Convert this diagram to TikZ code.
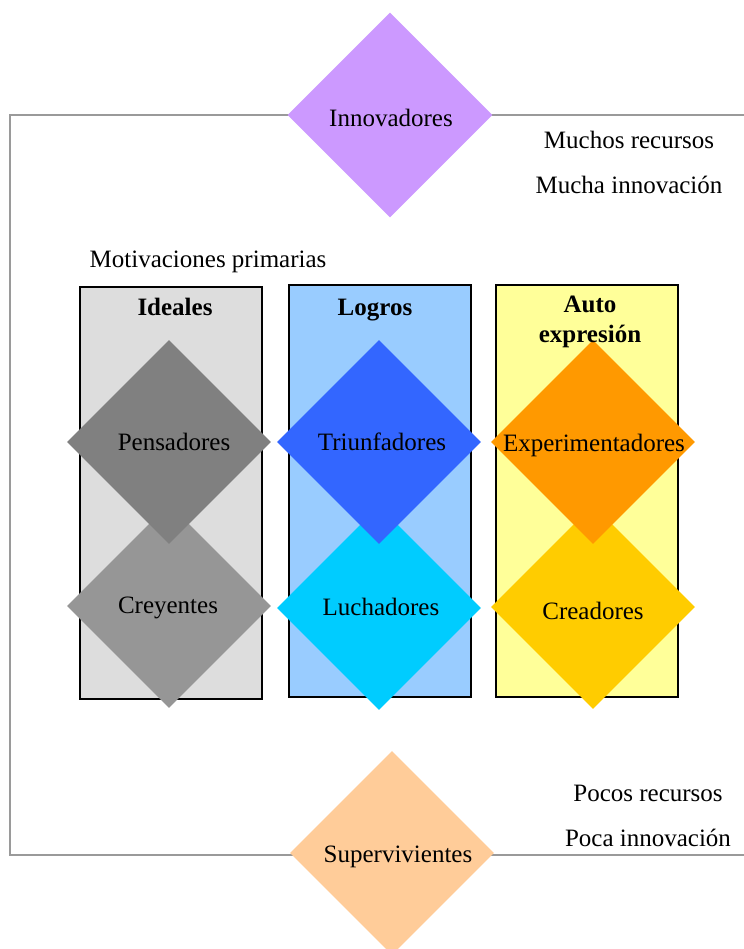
\documentclass[tikz,border=0pt]{standalone}
\usepackage{fontspec}
\setmainfont{Liberation Serif}
\usepackage{tikz}
\usetikzlibrary{shapes.geometric,positioning}
\definecolor{inno}{HTML}{CC99FF}
\definecolor{superv}{HTML}{FFCC99}
\definecolor{idealbg}{HTML}{DDDDDD}
\definecolor{logrobg}{HTML}{99CCFF}
\definecolor{autobg}{HTML}{FFFF99}
\definecolor{pens}{HTML}{808080}
\definecolor{crey}{HTML}{969696}
\definecolor{triun}{HTML}{3366FF}
\definecolor{luch}{HTML}{00CCFF}
\definecolor{exper}{HTML}{FF9900}
\definecolor{crea}{HTML}{FFCC00}
\definecolor{framegray}{HTML}{9A9A9A}
\tikzset{
  dia/.style    ={diamond,aspect=1,minimum size=102pt,inner sep=0pt,draw=none},
  column/.style ={draw=black,line width=0.6pt,minimum width=91pt,minimum height=206pt,
                  inner sep=0pt},
  head/.style   ={font=\fontsize{12.5}{15}\selectfont\bfseries,align=center,inner sep=0pt},
  side/.style   ={inner sep=0pt},
  frame/.style  ={draw=framegray,line width=0.75pt}
}

\begin{document}
\begin{tikzpicture}[x=0.5pt,y=-0.5pt,font=\fontsize{12.5}{15}\selectfont]
  \useasboundingbox (0,0) rectangle (744,949);
  % outer frame, open to the right
  \coordinate (ftr) at (744,115);
  \coordinate (ftl) at (10,115);
  \coordinate (fbl) at (10,855);
  \coordinate (fbr) at (744,855);
  \draw[frame] (ftr) -- (ftl) -- (fbl) -- (fbr);

  \node[dia,fill=inno,minimum size=102.5pt] (innov) at (390,115) {};
  \node[dia,fill=superv] (superv) at (392,853) {};

  \node[side] (much1) at (629,140) {Muchos recursos};
  \node[side] (much2) at (629,185) {Mucha innovación};
  \node[side] (poco1) at (648,793) {Pocos recursos};
  \node[side] (poco2) at (648,838) {Poca innovación};
  \node[side] (motiv) at (208,262) {Motivaciones primarias};

  % columns
  \node[column,fill=idealbg] (ideal) at (171,493) {};
  \node[column,fill=logrobg] (logro) at (380,491) {};
  \node[column,fill=autobg]  (auto)  at (587,491) {};

  % lower diamonds first, upper ones on top
  \node[dia,fill=crey]  (crey)  at (169,606) {};
  \node[dia,fill=luch]  (luch)  at (379,608) {};
  \node[dia,fill=crea]  (crea)  at (593,607) {};
  \node[dia,fill=pens]  (pens)  at (169,442) {};
  \node[dia,fill=triun] (triun) at (379,442) {};
  \node[dia,fill=exper] (exper) at (593,442) {};

  \node[head] (idealT) at (175,307) {Ideales};
  \node[head] (logroT) at (375,310) {Logros};
  \node[head] (autoT)  at (590,322) {Auto\\expresión};

  % diamond texts
  \node[side] (innovT) at ([shift={(1,3)}]innov) {Innovadores};
  \node[side] (supervT) at ([shift={(6,4)}]superv) {Supervivientes};
  \node[side] (pensT)  at ([shift={(5,0)}]pens)  {Pensadores};
  \node[side] (triunT) at ([shift={(3,0)}]triun) {Triunfadores};
  \node[side] (experT) at ([shift={(1,3)}]exper) {Experimentadores};
  \node[side] (creyT)  at ([shift={(-1,2)}]crey) {Creyentes};
  \node[side] (luchT)  at ([shift={(2,-1)}]luch) {Luchadores};
  \node[side] (creaT)  at ([shift={(0,4)}]crea)  {Creadores};
\end{tikzpicture}
\end{document}
